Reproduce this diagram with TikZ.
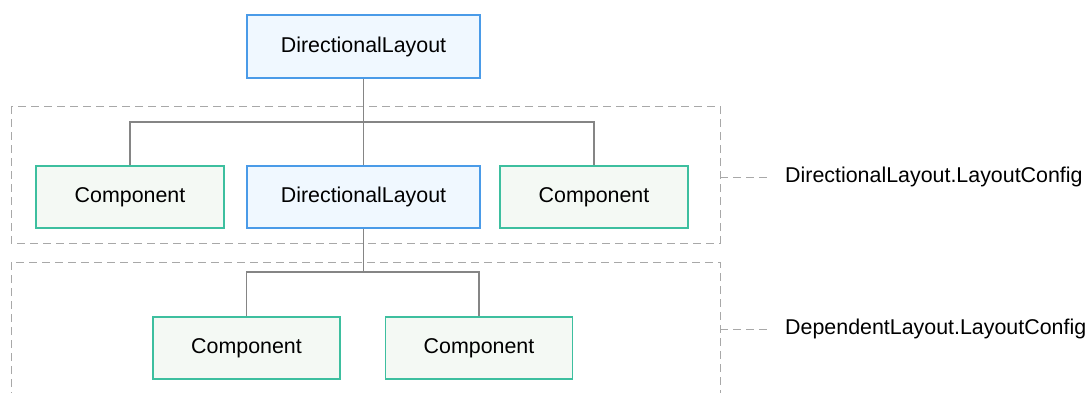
\documentclass[tikz,border=0pt]{standalone}
\usepackage{fontspec}
\setmainfont{Liberation Sans}
\definecolor{blueline}{HTML}{4A9BE8}
\definecolor{bluefill}{HTML}{F0F8FF}
\definecolor{greenline}{HTML}{3DBF9F}
\definecolor{greenfill}{HTML}{F4F9F4}
\definecolor{linkgray}{HTML}{858585}
\definecolor{dashgray}{HTML}{A8A8A8}
\tikzset{
  layoutbox/.style={draw=blueline, fill=bluefill, line width=1.5pt,
    minimum width=233pt, minimum height=63pt, inner sep=0pt,
    font=\fontsize{21.4pt}{24pt}\selectfont},
  compbox/.style={draw=greenline, fill=greenfill, line width=1.5pt,
    minimum width=188pt, minimum height=62pt, inner sep=0pt,
    font=\fontsize{21.4pt}{24pt}\selectfont},
  link/.style={draw=linkgray, line width=1.5pt},
  groupline/.style={draw=dashgray, line width=1pt, dash pattern=on 8pt off 5pt},
  grouplabel/.style={anchor=west, inner sep=0pt, font=\fontsize{21.4pt}{24pt}\selectfont}
}
\begin{document}
\begin{tikzpicture}[x=1pt, y=-1pt]
\useasboundingbox (0,0) rectangle (1088,392);

% groups
\draw[groupline] (11,106) rectangle (720,243);
\draw[groupline] (11,400) -- (11,262) -- (720,262) -- (720,400);

% nodes
\node[layoutbox] (root) at (363.5,46.5) {DirectionalLayout};
\node[compbox] (c1) at (130,197) {Component};
\node[layoutbox, minimum height=62pt] (dl) at (363.5,197) {DirectionalLayout};
\node[compbox] (c2) at (594,197) {Component};
\node[compbox, minimum width=187pt] (c3) at (246.5,348) {Component};
\node[compbox, minimum width=187pt] (c4) at (479,348) {Component};

% tree connectors
\coordinate (j1) at (363.5,122);
\coordinate (j2) at (363.5,272);
\draw[link] (root.south) -- (dl.north);
\draw[link] (c1.north) |- (j1) -| (c2.north);
\draw[link] (dl.south) -- (j2);
\draw[link] (c3.north) |- (j2) -| (c4.north);

% group labels
\node[grouplabel] (g1) at (785,177) {DirectionalLayout.LayoutConfig};
\node[grouplabel] (g2) at (785,329) {DependentLayout.LayoutConfig};
\coordinate (e1) at (720,177);
\coordinate (e2) at (720,329);
\draw[groupline] (e1) -- ([xshift=-14pt]g1.west);
\draw[groupline] (e2) -- ([xshift=-14pt]g2.west);
\end{tikzpicture}
\end{document}
